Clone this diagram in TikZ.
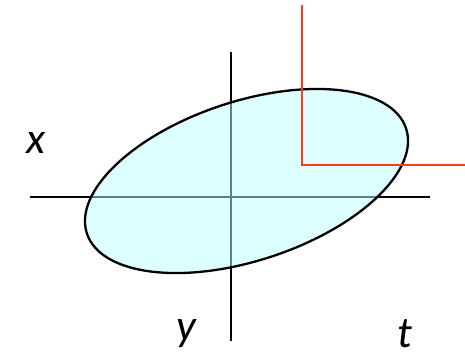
\documentclass[tikz,border=0pt]{standalone}
\usepackage{fontspec}
\setmainfont{Carlito}
\definecolor{blobfill}{RGB}{190,255,255}
\definecolor{redorange}{RGB}{255,60,20}
\begin{document}
\begin{tikzpicture}[x=1pt,y=-1pt,
  axis/.style={draw=black,line width=2.3pt},
  redline/.style={draw=redorange,line width=2.3pt},
  lbl/.style={font=\fontsize{44}{48}\selectfont\itshape,inner sep=0pt},
  blob/.style={fill=blobfill,fill opacity=0.5}]
\useasboundingbox (0,0) rectangle (465,360);
\coordinate (hl) at (30,197);
\coordinate (hr) at (430,197);
\coordinate (vt) at (231,52);
\coordinate (vb) at (231,341);
\draw[axis] (hl) -- (hr);
\draw[axis] (vt) -- (vb);
\coordinate (c) at (246.5,181);
\path[blob] (c) ellipse[x radius=168, y radius=79.6, rotate=18.2];
\draw[black,line width=2.3pt] (c) ellipse[x radius=168, y radius=79.6, rotate=18.2];
\coordinate (rt) at (302,5);
\coordinate (rc) at (302,165);
\coordinate (rr) at (465,165);
\draw[redline] (rt) -- (rc) -- (rr);
\node[lbl] (x) at (36,143) {x};
\node[lbl] (y) at (186,334) {y};
\node[lbl] (t) at (405,334) {t};
\end{tikzpicture}
\end{document}
